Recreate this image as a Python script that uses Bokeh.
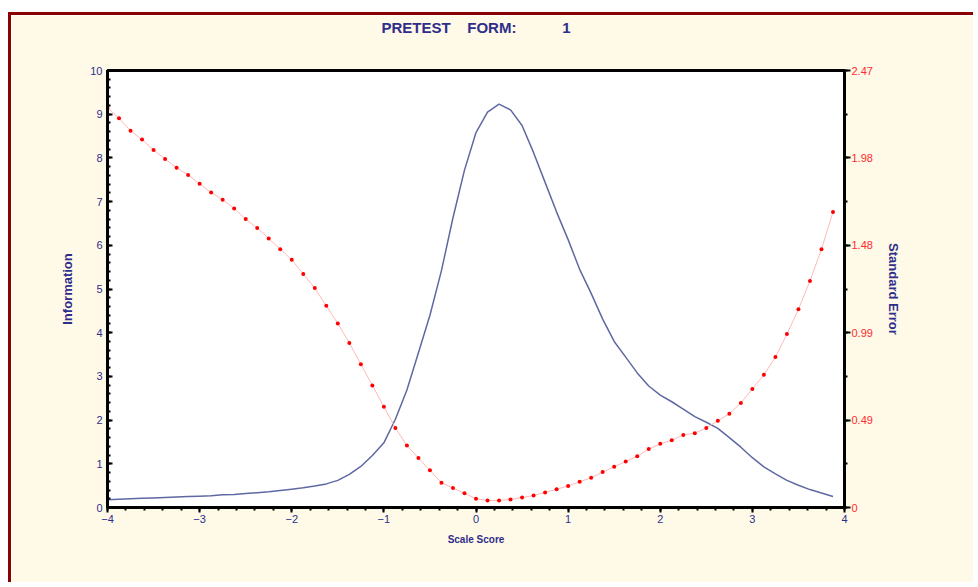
from bokeh.plotting import figure
from bokeh.models import (LinearAxis, Range1d, SingleIntervalTicker, Spacer, Title,
                          ColumnDataSource, PrintfTickFormatter)
from bokeh.layouts import column, row
from bokeh.embed import file_html
from bokeh.resources import INLINE

# ---------------- data ----------------
scale_score = [-4.0 + 0.125 * k for k in range(64)]

information = [0.18, 0.19, 0.20, 0.21, 0.22, 0.23, 0.24, 0.25,
               0.26, 0.27, 0.29, 0.30, 0.32, 0.34, 0.36, 0.39,
               0.42, 0.45, 0.49, 0.54, 0.62, 0.76, 0.94, 1.19,
               1.48, 2.02, 2.69, 3.54, 4.40, 5.42, 6.63, 7.72,
               8.58, 9.05, 9.23, 9.10, 8.74, 8.12, 7.44, 6.76,
               6.13, 5.45, 4.90, 4.31, 3.80, 3.44, 3.08, 2.78,
               2.57, 2.42, 2.25, 2.08, 1.95, 1.81, 1.60, 1.38,
               1.14, 0.93, 0.77, 0.62, 0.51, 0.41, 0.33, 0.25]

std_error = [2.26, 2.20, 2.13, 2.08, 2.02, 1.97, 1.92, 1.88,
             1.83, 1.78, 1.74, 1.69, 1.63, 1.58, 1.52, 1.46,
             1.40, 1.32, 1.24, 1.14, 1.04, 0.93, 0.81, 0.69,
             0.57, 0.45, 0.35, 0.28, 0.21, 0.14, 0.11, 0.08,
             0.05, 0.04, 0.04, 0.045, 0.056, 0.068, 0.085, 0.103,
             0.122, 0.145, 0.168, 0.20, 0.23, 0.26, 0.29, 0.33,
             0.36, 0.38, 0.41, 0.42, 0.45, 0.49, 0.53, 0.59,
             0.67, 0.75, 0.85, 0.98, 1.12, 1.28, 1.46, 1.67]

x_min, x_max = -4, 4
info_max = 10
se_max = 2.47
se_step = 0.494   # right-axis tick interval (labels 0, 0.49, 0.99, 1.48, 1.98, 2.47)

title_text = ("PRETEST" + "\u00a0" * 4 + "FORM:" + "\u00a0" * 11 + "1")

# ---------------- styles ----------------
NAVY = "#2E2E8A"
RED = "#FF2A2A"
BG = "#FFF9E8"
FONT = "Liberation Sans"

p = figure(width=965, height=570, output_backend="svg", toolbar_location=None,
           x_range=Range1d(x_min, x_max), y_range=Range1d(0, info_max),
           min_border_left=96, min_border_right=132,
           min_border_top=55, min_border_bottom=78,
           background_fill_color="white", border_fill_color=BG)
p.styles = {"border-left": "3px solid #8B0000", "border-top": "3px solid #8B0000"}
p.grid.visible = False
p.outline_line_color = "black"
p.outline_line_width = 3

# main title (outermost) + an invisible gap title nearer the frame to lift it up
p.title = Title(text=title_text, align="center", vertical_align="bottom",
                text_font=FONT, text_font_size="15px", text_font_style="bold",
                text_color=NAVY, standoff=0)
p.add_layout(Title(text="\u00a0", text_font_size="10px", standoff=22), "above")

p.extra_y_ranges = {"se": Range1d(0, se_max)}

# information curve
p.line(scale_score, information, line_color="#5F68A2", line_width=1.5)
# standard error: faint line + red dots
src = ColumnDataSource(dict(x=scale_score, se=std_error))
p.line("x", "se", source=src, y_range_name="se", line_color="#FFB8B8", line_width=1)
p.scatter("x", "se", source=src, y_range_name="se", size=4,
          fill_color="#FF0000", line_color=None)

xa = p.xaxis[0]
xa.ticker = SingleIntervalTicker(interval=1, num_minor_ticks=5)
xa.axis_label = "Scale Score"

ya = p.yaxis[0]
ya.ticker = SingleIntervalTicker(interval=1, num_minor_ticks=5)
ya.axis_label = "Information"

ra = LinearAxis(y_range_name="se", axis_label="Standard Error",
                ticker=SingleIntervalTicker(interval=se_step, num_minor_ticks=2),
                formatter=PrintfTickFormatter(format="%.2f"),
                major_label_overrides={0: "0"})
p.add_layout(ra, "right")

for ax in (xa, ya, ra):
    ax.axis_line_color = "black"
    ax.axis_line_width = 3
    ax.major_tick_line_color = "black"
    ax.minor_tick_line_color = "black"
    ax.major_tick_line_width = 2
    ax.minor_tick_line_width = 2
    ax.major_label_text_font = FONT
    ax.major_label_text_font_size = "11px"
    ax.axis_label_text_font = FONT
    ax.axis_label_text_font_style = "bold"
    ax.axis_label_text_color = NAVY

xa.major_tick_in = 0
xa.major_tick_out = 5
xa.minor_tick_in = 0
xa.minor_tick_out = 3
xa.major_label_standoff = 2
xa.major_label_text_color = NAVY
xa.axis_label_text_font_size = "10px"
xa.axis_label_standoff = 8

ya.major_tick_in = 5
ya.major_tick_out = 0
ya.minor_tick_in = 3
ya.minor_tick_out = 0
ya.major_label_standoff = 5
ya.major_label_text_color = NAVY
ya.axis_label_text_font_size = "13px"
ya.axis_label_standoff = 12

ra.major_tick_in = 0
ra.major_tick_out = 6
ra.minor_tick_in = 0
ra.minor_tick_out = 3
ra.major_label_standoff = 1
ra.major_label_text_color = RED
ra.axis_label_text_font_size = "13px"
ra.axis_label_standoff = 10

layout = column(Spacer(height=12), row(Spacer(width=8), p))
open("out.html", "w").write(file_html(layout, INLINE))
